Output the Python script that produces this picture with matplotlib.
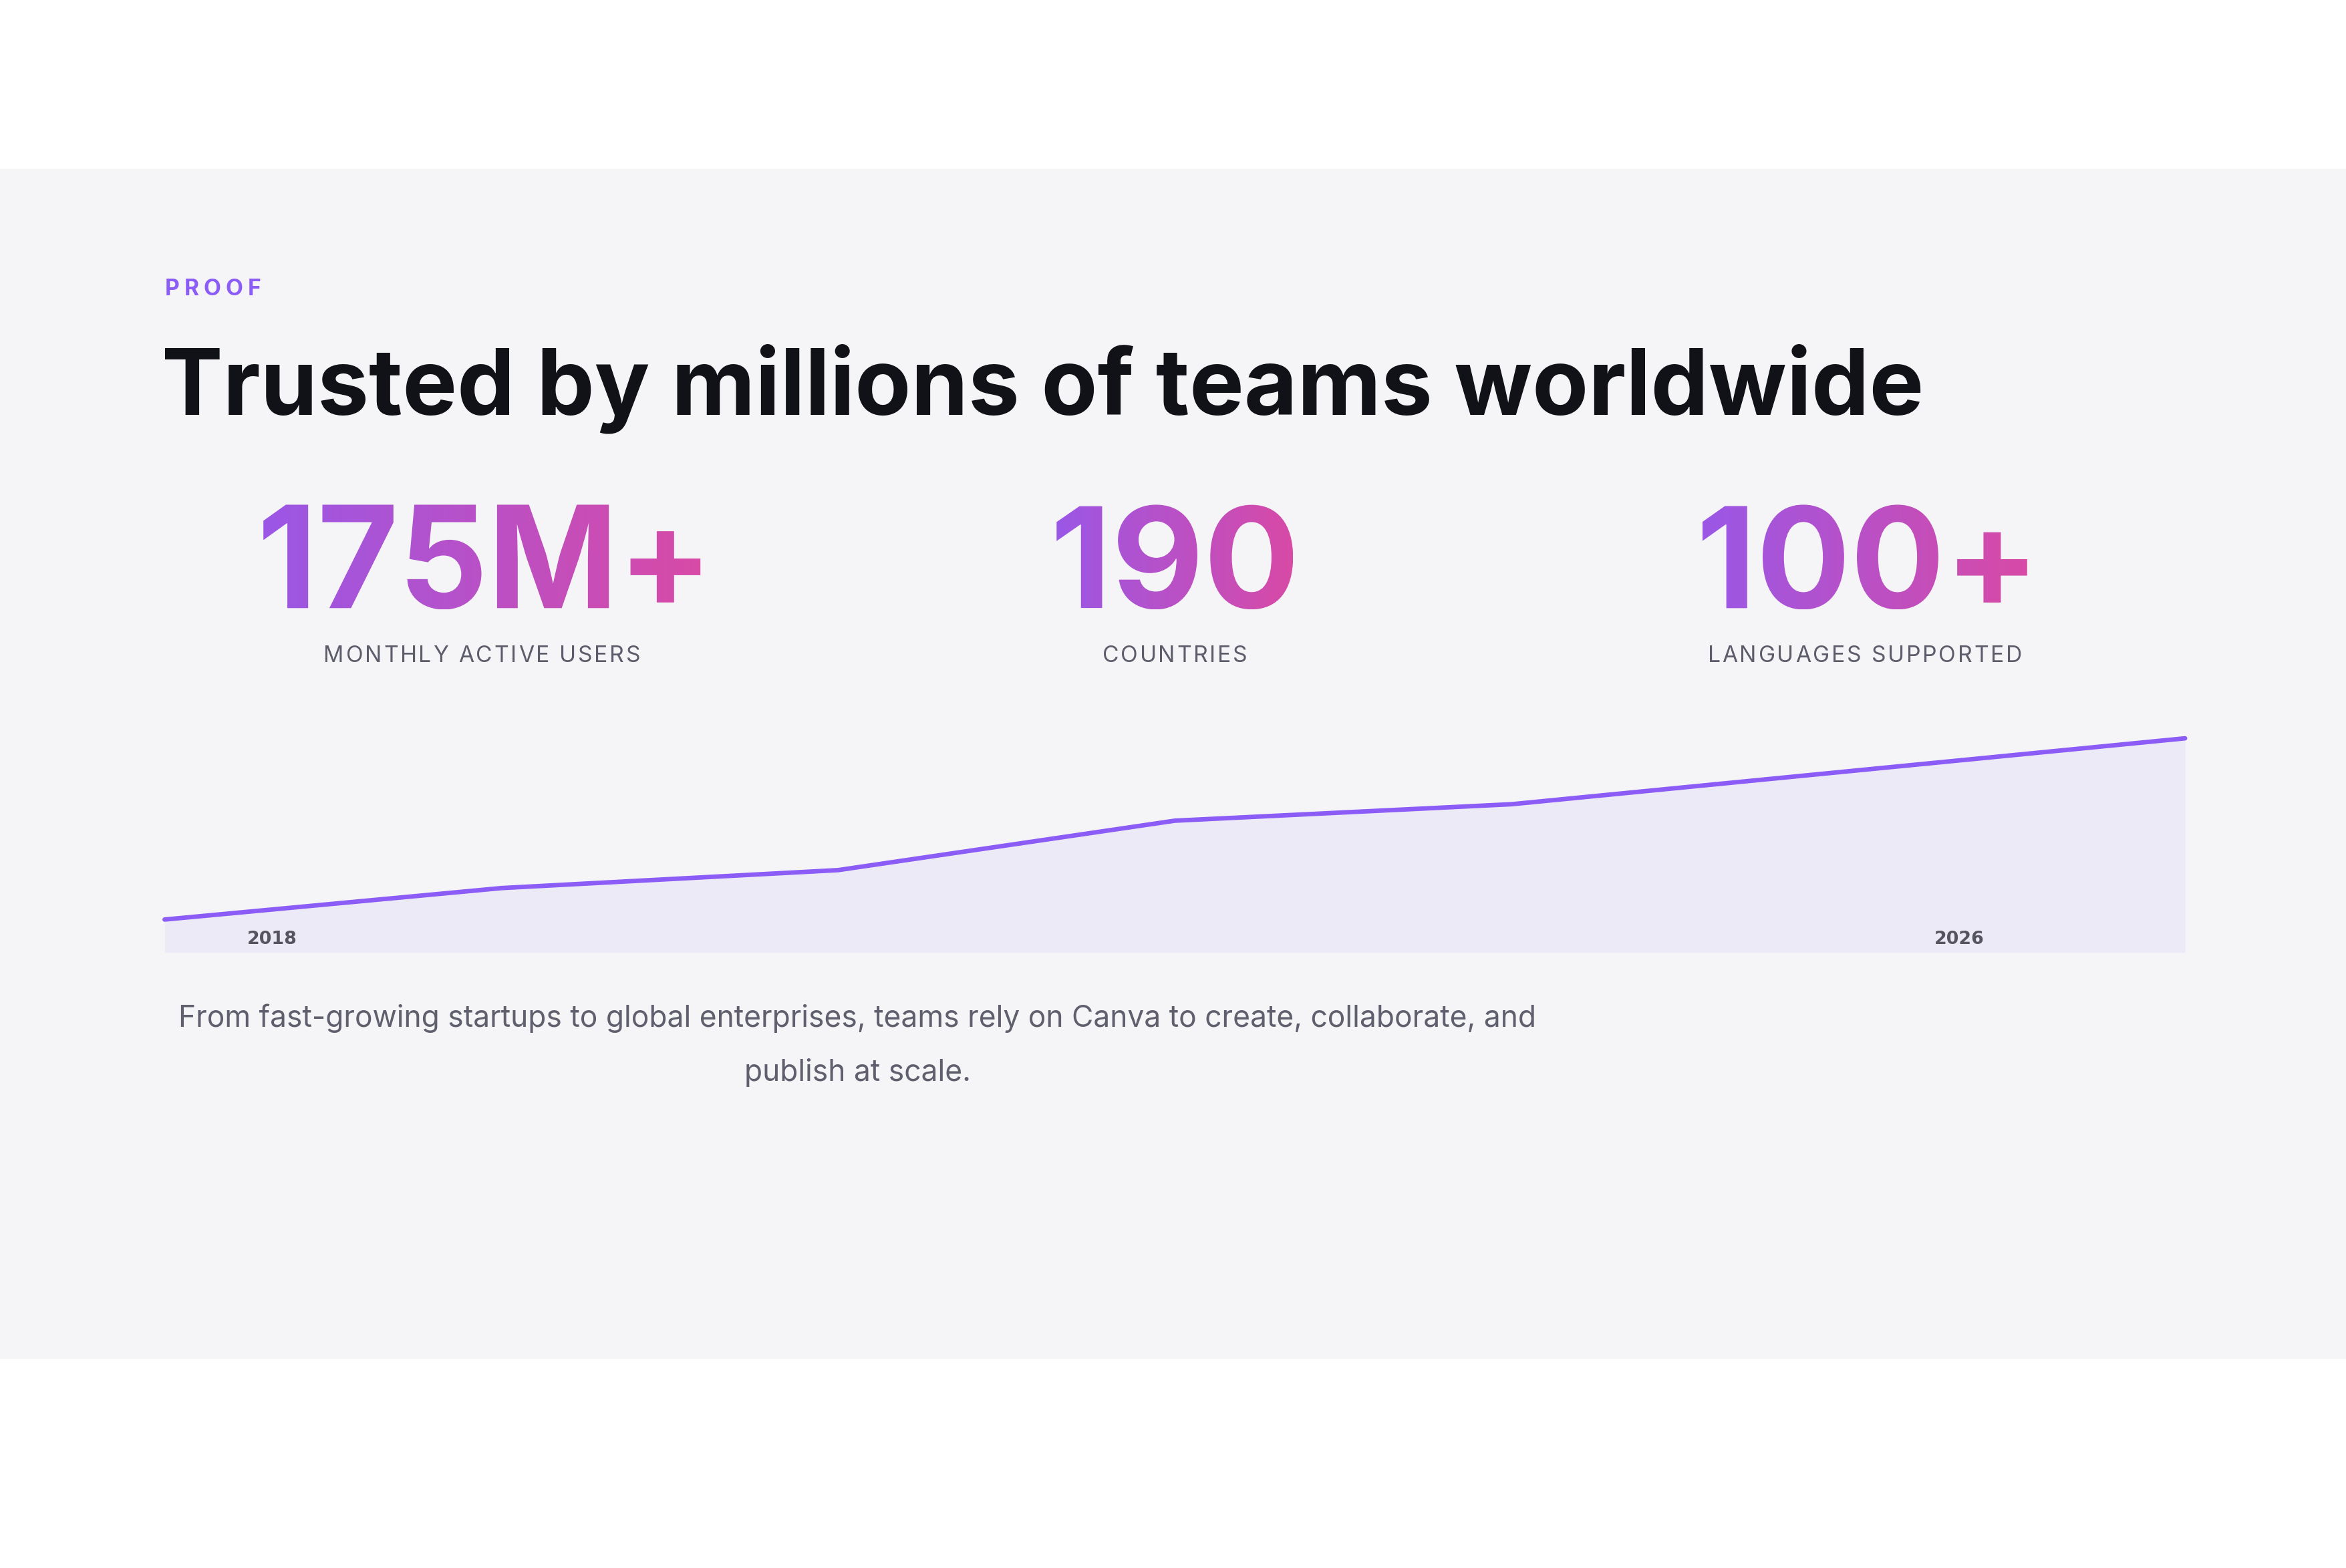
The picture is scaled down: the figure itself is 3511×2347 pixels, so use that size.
import numpy as np
import matplotlib
matplotlib.use("Agg")
import matplotlib.pyplot as plt
from matplotlib.textpath import TextPath, text_to_path
from matplotlib.patches import PathPatch, Rectangle
from matplotlib.font_manager import FontProperties
from matplotlib.colors import LinearSegmentedColormap
import matplotlib.transforms as mtrans

# data
stat_values = ["175M+", "190", "100+"]
stat_labels = ["MONTHLY ACTIVE USERS", "COUNTRIES", "LANGUAGES SUPPORTED"]
years = [2018, 2019, 2020, 2021, 2022, 2024, 2026]
growth = [22, 43, 55, 88, 99, 121, 143]
year_ticks = ["2018", "2026"]

W, H = 1568, 1047
fig = plt.figure(figsize=(35.12, 23.47), dpi=100)
ax = fig.add_axes([0, 0, 1, 1])
ax.set_xlim(0, W)
ax.set_ylim(H, 0)
ax.axis("off")
ax.add_patch(Rectangle((0, 113), W, 794, color="#f5f5f7", zorder=0))

PT = 2.24 * 72 / 100  # points per display px


def spaced(x, y, s, size_px, spacing, color, weight="normal", family="Inter",
           ha="center", target=ax, tf=None):
    prop = FontProperties(family=family, weight=weight, size=size_px * PT)
    adv = []
    for i in range(len(s) + 1):
        w = text_to_path.get_text_width_height_descent(s[:i], prop, ismath=False)[0] if i else 0
        adv.append(w / PT)
    total = adv[-1] + spacing * (len(s) - 1)
    x0 = x - total / 2 if ha == "center" else x
    for i, ch in enumerate(s):
        target.text(x0 + adv[i] + spacing * i, y, ch, fontproperties=prop, color=color,
                    ha="left", va="center", zorder=6)


spaced(110, 193, "PROOF", 15, 3.2, "#8b5cf6", weight="bold", ha="left")
ax.text(108, 277, "Trusted by millions of teams worldwide", color="#111118",
        fontsize=61.3 * PT, fontweight="bold", family="Inter", va="baseline", ha="left")

cmap = LinearSegmentedColormap.from_list("g", ["#9b57e6", "#d84aa6"])
fp = FontProperties(family="Inter", weight="bold")
centers = [322, 785, 1246]
widths = [292, 158, 217]
for s, lab, cx, w in zip(stat_values, stat_labels, centers, widths):
    tp = TextPath((0, 0), s, size=100, prop=fp)
    ext = tp.get_extents()
    sx = w / ext.width
    sy = 70 / ext.height
    x0 = cx - w / 2
    tr = mtrans.Affine2D().translate(-ext.x0, -ext.y1).scale(sx, -sy).translate(x0, 337)
    patch = PathPatch(tr.transform_path(tp), fc="none", ec="none")
    ax.add_patch(patch)
    im = ax.imshow(np.linspace(0, 1, 256)[None, :], cmap=cmap, aspect="auto",
                   extent=(x0, x0 + w, 407, 337), zorder=3)
    im.set_clip_path(patch)
    spaced(cx, 438, lab, 15, 1.25, "#5c5c6b")

ax.text(573, 680, "From fast-growing startups to global enterprises, teams rely on Canva to create, collaborate, and",
        color="#5f5f6e", fontsize=19.8 * PT, family="Inter", ha="center", va="center")
ax.text(573, 716, "publish at scale.", color="#5f5f6e", fontsize=19.8 * PT, family="Inter",
        ha="center", va="center")

# growth chart
cax = fig.add_axes([110 / W, 1 - 636 / H, 1350 / W, 150 / H])
xs = np.arange(len(years))
cax.fill_between(xs, growth, 0, color="#edeaf7", lw=0)
cax.plot(xs, growth, color="#8b5cf6", lw=3 * PT, solid_capstyle="round")
cax.set_xlim(0, len(years) - 1)
cax.set_ylim(0, 150)
cax.axis("off")
cax.set_clip_on(False)
for line in cax.lines:
    line.set_clip_on(False)
for t, px in zip(year_ticks, [182, 1309]):
    cax.text((px - 110) / 1350, 9 / 150, t, transform=cax.transAxes, color="#55555f",
             fontsize=12 * PT, fontweight="bold", family="DejaVu Sans",
             ha="center", va="center", zorder=5)

fig.savefig("out.png", dpi=100, facecolor="white")
